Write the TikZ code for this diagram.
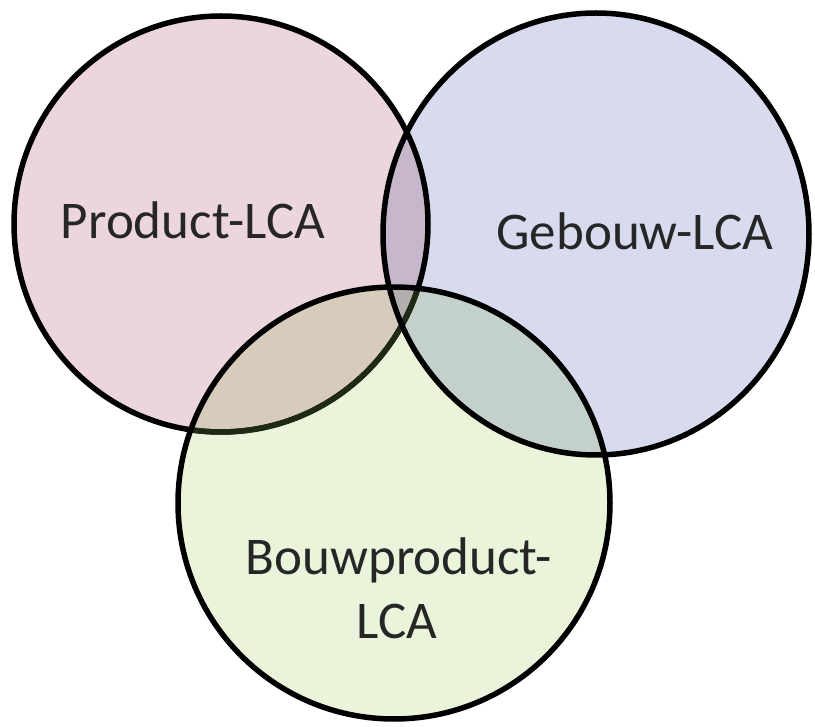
\documentclass[tikz,border=0pt]{standalone}
\usepackage{fontspec}
\setmainfont{Carlito}
\definecolor{prodpink}{RGB}{236,214,221}
\definecolor{gebblue}{RGB}{215,219,237}
\definecolor{bouwgreen}{RGB}{233,244,218}
\definecolor{rimgreen}{RGB}{30,42,20}
\definecolor{labelgrey}{RGB}{38,38,38}

\begin{document}
\begin{tikzpicture}[x=1pt, y=-1pt, line width=5.5pt,
    lbl/.style={text=labelgrey, font=\fontsize{53}{63}\selectfont, anchor=base}]
    \useasboundingbox (0,0) rectangle (815,727);

    % Discs, darker where they overlap
    \begin{scope}[blend group=multiply]
        \fill[prodpink] (221,224) ellipse [x radius=207, y radius=208];
        \fill[gebblue] (596,234) ellipse [x radius=213, y radius=221];
        \fill[bouwgreen] (394,503) ellipse [x radius=216, y radius=216];
    \end{scope}

    % Rims
    \draw (221,224) ellipse [x radius=207, y radius=208];
    \begin{scope}
        \clip (394,503) ellipse [x radius=216, y radius=216];
        \draw[rimgreen] (221,224) ellipse [x radius=207, y radius=208];
    \end{scope}
    \draw (394,503) ellipse [x radius=216, y radius=216];
    \draw (596,234) ellipse [x radius=213, y radius=221];

    % Labels
    \node[lbl] (product) at (193,239) {Product-LCA};
    \node[lbl] (gebouw) at (635,250) {Gebouw-LCA};
    \node[lbl] (bouwprod) at (399,575) {Bouwproduct-};
    \node[lbl] (bouwlca) at (397,638) {LCA};
\end{tikzpicture}
\end{document}
